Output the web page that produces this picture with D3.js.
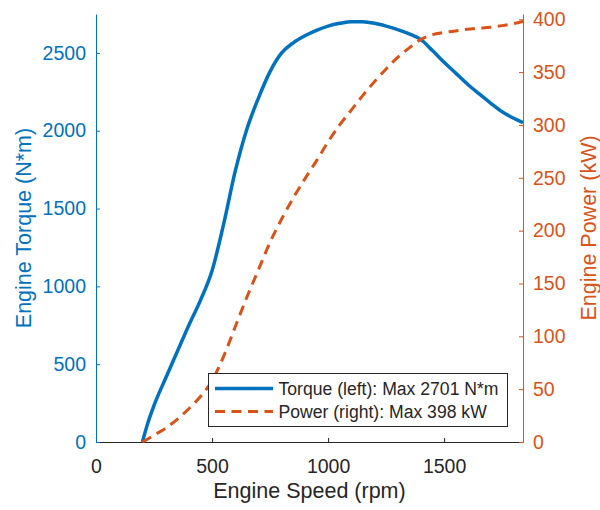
<!DOCTYPE html>
<html>
<head>
<meta charset="utf-8">
<script src="https://cdn.jsdelivr.net/npm/d3@7"></script>
<style>
  html, body { margin: 0; padding: 0; background: #fff; }
  svg { display: block; font-family: "Liberation Sans", Arial, Helvetica, sans-serif; }
</style>
</head>
<body>
<svg id="chart" width="600" height="510"></svg>
<script>
// Engine speed (rpm)
const speedRpm = [200, 225, 250, 300, 350, 400, 450, 500, 550, 600, 650, 700, 750, 800, 850, 900, 950, 1000,
  1050, 1100, 1150, 1200, 1250, 1300, 1350, 1400, 1450, 1500, 1550, 1600, 1650, 1700, 1750, 1800, 1840];
// Engine torque (N*m), left axis
const torqueNm = [0, 130, 235, 410, 580, 750, 910, 1100, 1400, 1740, 2010, 2210, 2380, 2500, 2565, 2610, 2645, 2672,
  2690, 2701, 2700, 2690, 2672, 2650, 2622, 2585, 2515, 2440, 2370, 2300, 2238, 2178, 2122, 2080, 2052];
// Engine power (kW), right axis
const powerKw = [0, 3, 6.5, 13, 21.5, 31.5, 43, 58, 81, 109, 137, 163, 189, 211, 231, 249, 266, 284,
  300, 314, 328, 341, 353, 364, 373, 381, 385.5, 387.5, 389, 390.5, 391.5, 392.5, 394, 396, 398];
const xTicks = [0, 500, 1000, 1500];
const leftTicks = [0, 500, 1000, 1500, 2000, 2500];
const rightTicks = [0, 50, 100, 150, 200, 250, 300, 350, 400];
const legendLabels = ["Torque (left): Max 2701 N*m", "Power (right): Max 398 kW"];

const blue = "#0072BD", orange = "#D95319", dark = "#262626";
const L = 96, R = 523, T = 14, B = 442;

const svg = d3.select("#chart");
const x = d3.scaleLinear().domain([0, 1840]).range([L, R]);
const yL = d3.scaleLinear().domain([0, 2750]).range([B, T]);
const yR = d3.scaleLinear().domain([0, 405]).range([B, T]);
const fmt = d3.format("d");

const tickFont = "19.5px", labelFont = "21.5px";

// bottom axis
const gx = svg.append("g").attr("transform", `translate(0,${B})`)
  .call(d3.axisBottom(x).tickValues(xTicks).tickFormat(fmt).tickSizeInner(-4).tickSizeOuter(0).tickPadding(17));
gx.select(".domain").attr("stroke", dark).attr("stroke-width", 1);
gx.selectAll(".tick line").attr("stroke", dark);
gx.selectAll(".tick text").attr("fill", dark).style("font-size", tickFont);

// left axis
const gl = svg.append("g").attr("transform", `translate(${L},0)`)
  .call(d3.axisLeft(yL).tickValues(leftTicks).tickFormat(fmt).tickSizeInner(-4).tickSizeOuter(0).tickPadding(10));
gl.select(".domain").attr("stroke", blue);
gl.selectAll(".tick line").attr("stroke", blue);
gl.selectAll(".tick text").attr("fill", blue).style("font-size", tickFont);

// right axis
const gr = svg.append("g").attr("transform", `translate(${R},0)`)
  .call(d3.axisRight(yR).tickValues(rightTicks).tickFormat(fmt).tickSizeInner(-4).tickSizeOuter(0).tickPadding(10));
gr.select(".domain").attr("stroke", orange);
gr.selectAll(".tick line").attr("stroke", orange);
gr.selectAll(".tick text").attr("fill", orange).style("font-size", tickFont);
svg.selectAll("g").attr("font-family", null).attr("font-size", null);

// axis labels
svg.append("text").attr("x", (L + R) / 2).attr("y", 498).attr("text-anchor", "middle")
  .attr("fill", dark).style("font-size", labelFont).text("Engine Speed (rpm)");
svg.append("text").attr("transform", `translate(31,${(T + B) / 2}) rotate(-90)`).attr("text-anchor", "middle")
  .attr("fill", blue).style("font-size", labelFont).text("Engine Torque (N*m)");
svg.append("text").attr("transform", `translate(596,${(T + B) / 2}) rotate(-90)`).attr("text-anchor", "middle")
  .attr("fill", orange).style("font-size", labelFont).text("Engine Power (kW)");

// lines
const torqueData = speedRpm.map((s, i) => [s, torqueNm[i]]);
const powerData = speedRpm.map((s, i) => [s, powerKw[i]]);
svg.append("path").datum(torqueData)
  .attr("d", d3.line().x(d => x(d[0])).y(d => yL(d[1])).curve(d3.curveMonotoneX))
  .attr("fill", "none").attr("stroke", blue).attr("stroke-width", 3.5);
svg.append("path").datum(powerData)
  .attr("d", d3.line().x(d => x(d[0])).y(d => yR(d[1])).curve(d3.curveMonotoneX))
  .attr("fill", "none").attr("stroke", orange).attr("stroke-width", 3).attr("stroke-dasharray", "10,6.5");

// legend
const lg = svg.append("g");
lg.append("rect").attr("x", 208.5).attr("y", 373.5).attr("width", 299).attr("height", 53)
  .attr("fill", "#fff").attr("stroke", dark).attr("stroke-width", 1);
const rowsY = [388.5, 411.5];
lg.append("line").attr("x1", 215).attr("x2", 273).attr("y1", rowsY[0]).attr("y2", rowsY[0])
  .attr("stroke", blue).attr("stroke-width", 3.5);
lg.append("line").attr("x1", 215).attr("x2", 273).attr("y1", rowsY[1]).attr("y2", rowsY[1])
  .attr("stroke", orange).attr("stroke-width", 3).attr("stroke-dasharray", "10,6.5");
legendLabels.forEach((t, i) => {
  lg.append("text").attr("x", 278.5).attr("y", rowsY[i]).attr("dy", "0.35em")
    .attr("fill", dark).style("font-size", "17.6px").text(t);
});
</script>
</body>
</html>
